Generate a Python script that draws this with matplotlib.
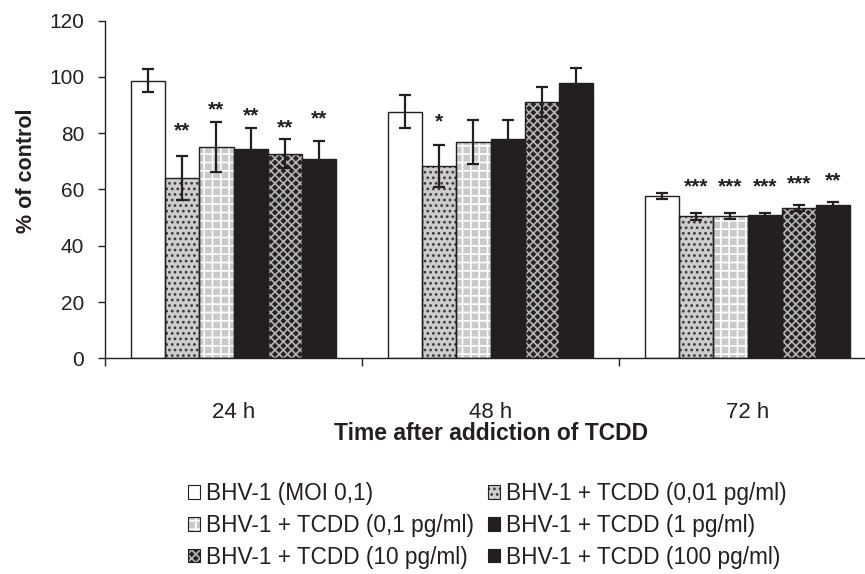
import matplotlib
matplotlib.use("Agg")
import matplotlib.pyplot as plt
from matplotlib.patches import Patch
import numpy as np

plt.rcParams['font.family'] = ['Liberation Sans', 'DejaVu Sans']
plt.rcParams['hatch.linewidth'] = 1.2

# ---- data ----
categories = ["24 h", "48 h", "72 h"]
series_labels = [
    "BHV-1 (MOI 0,1)",
    "BHV-1 + TCDD (0,01 pg/ml)",
    "BHV-1 + TCDD (0,1 pg/ml)",
    "BHV-1 + TCDD (1 pg/ml)",
    "BHV-1 + TCDD (10 pg/ml)",
    "BHV-1 + TCDD (100 pg/ml)",
]
moi = [98.7, 87.7, 57.7]
tcdd_001 = [64.1, 68.4, 50.5]
tcdd_01 = [75.2, 76.8, 50.6]
tcdd_1 = [74.4, 78.0, 50.8]
tcdd_10 = [72.7, 91.1, 53.5]
tcdd_100 = [71.0, 98.0, 54.5]

err_moi = [4.0, 6.0, 1.2]
err_001 = [7.8, 7.5, 1.2]
err_01 = [8.9, 7.8, 1.2]
err_1 = [7.4, 6.6, 0.8]
err_10 = [5.1, 5.5, 1.0]
err_100 = [6.2, 5.1, 1.2]

# significance marks per series (rows) and category (cols)
stars_moi = ["", "", ""]
stars_001 = ["**", "*", "***"]
stars_01 = ["**", "", "***"]
stars_1 = ["**", "", "***"]
stars_10 = ["**", "", "***"]
stars_100 = ["**", "", "**"]
# heights (in % of control) where the marks are printed
star_y_moi = [0, 0, 0]
star_y_001 = [80.8, 83.9, 61.0]
star_y_01 = [88.3, 0, 61.0]
star_y_1 = [86.1, 0, 61.0]
star_y_10 = [81.8, 0, 62.0]
star_y_100 = [85.1, 0, 63.0]

yticks = [0, 20, 40, 60, 80, 100, 120]

values = [moi, tcdd_001, tcdd_01, tcdd_1, tcdd_10, tcdd_100]
errors = [err_moi, err_001, err_01, err_1, err_10, err_100]
stars = [stars_moi, stars_001, stars_01, stars_1, stars_10, stars_100]
star_ys = [star_y_moi, star_y_001, star_y_01, star_y_1, star_y_10, star_y_100]

# styles: (facecolor, hatch, hatchcolor)
styles = [
    ("white", None, None),
    ("#cdcdcd", "...", "#3a3a3a"),
    ("#c9c9c9", "++", "white"),
    ("#231f20", None, None),
    ("#262324", "xxxx", "#b5b5b5"),
    ("#231f20", None, None),
]
ink = "#231f20"

fig = plt.figure(figsize=(8.65, 5.74), dpi=100)
ax = fig.add_axes([105 / 865, 1 - 358.3 / 574, (876 - 105) / 865, (358.3 - 20.7) / 574])

n = len(values)
w = 0.8 / n
x = np.arange(len(categories))
handles = []
for i in range(n):
    pos = x + (i - (n - 1) / 2) * w
    fc, hatch, hc = styles[i]
    if hatch:
        ax.bar(pos, values[i], width=w, color=fc, edgecolor=hc, hatch=hatch, linewidth=0, zorder=2)
    else:
        ax.bar(pos, values[i], width=w, color=fc, linewidth=0, zorder=2)
    ax.bar(pos, values[i], width=w, fill=False, edgecolor=ink, linewidth=1.0, zorder=3)
    ax.errorbar(pos, values[i], yerr=errors[i], fmt="none", ecolor=ink, elinewidth=1.6,
                capsize=4.3, capthick=1.6, zorder=4)
    for j in range(len(categories)):
        if stars[i][j]:
            ax.text(pos[j], star_ys[i][j], stars[i][j], ha="center", va="center",
                    fontsize=15, fontweight="bold", color=ink, zorder=5)
    if hatch:
        h1 = Patch(facecolor=fc, edgecolor=hc, hatch=hatch, linewidth=0)
    else:
        h1 = Patch(facecolor=fc, linewidth=0)
    h2 = Patch(fill=False, edgecolor=ink, linewidth=0.8)
    handles.append((h1, h2))

ax.set_ylim(0, 120)
ax.set_xlim(-0.5, 2.5)
ax.set_yticks(yticks)
ax.tick_params(axis="y", direction="out", length=5, width=1, pad=10, labelsize=15, colors=ink)
ax.set_xticks([-0.5, 0.5, 1.5])
ax.set_xticklabels([])
ax.tick_params(axis="x", which="major", direction="out", length=6, width=1, colors=ink)
ax.set_xticks(x, minor=True)
ax.set_xticklabels(categories, minor=True)
ax.tick_params(axis="x", which="minor", length=0, pad=31.5, labelsize=16, colors=ink)
for s in ["top", "right"]:
    ax.spines[s].set_visible(False)
for s in ["left", "bottom"]:
    ax.spines[s].set_color(ink)
    ax.spines[s].set_linewidth(1.0)

fig.text(27 / 865, 1 - 171 / 574, "% of control", rotation=90, ha="center", va="center",
         fontsize=15.5, fontweight="bold", color=ink)
fig.text(491 / 865, 1 - 434 / 574, "Time after addiction of TCDD", ha="center", va="center",
         fontsize=16.5, fontweight="bold", color=ink)

order = [0, 2, 4, 1, 3, 5]
leg = fig.legend([handles[k] for k in order], [series_labels[k] for k in order],
                 ncol=2, frameon=False, loc="upper left", bbox_to_anchor=(188 / 865, 1 - 482 / 574),
                 borderaxespad=0, borderpad=0,
                 fontsize=16.3, handlelength=0.55, handleheight=0.55, handletextpad=0.25,
                 labelspacing=0.39, columnspacing=0.6, labelcolor=ink)

fig.savefig("out.png", dpi=100)
